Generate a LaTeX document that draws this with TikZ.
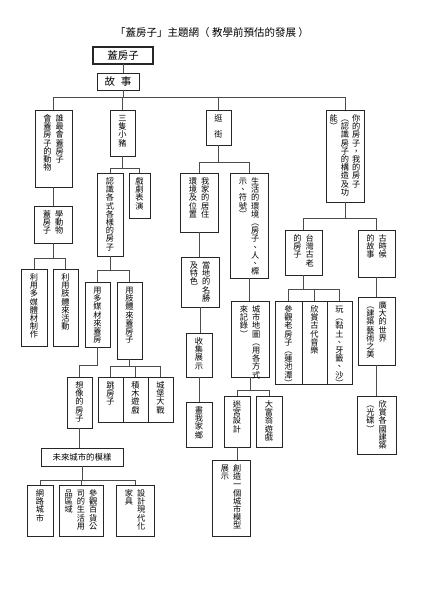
\documentclass[tikz,border=0pt]{standalone}
\usepackage{fontspec}
\newfontfamily\cjk{Noto Sans CJK TC}

% vertical text: one glyph per cell, columns written left to right
\newcommand{\vcell}[1]{\hbox to 1em{\hss\vrule height .88em depth .12em width 0pt\relax #1\hss}}
\def\vcolend{\vcolend}
\def\vcolloop#1{\ifx#1\vcolend\else\vcell{#1}\expandafter\vcolloop\fi}
\newcommand{\blankcell}{}
\newcommand{\vcol}[1]{\vtop{\baselineskip=1em\lineskiplimit=-\maxdimen\vcolloop#1\vcolend}}
\newcommand{\colgap}{\hspace{4pt}}
% box from (x1,y1) to (x2,y2), text hung from the top
\newcommand{\topic}[6]{%
  \node[topic, minimum width={(#4-#2)*1pt}, minimum height={(#5-#3)*1pt}] (#1) at ({(#2+#4)/2},{(#3+#5)/2}) {};
  \node[topictext] at ([yshift=-4pt]#1.north) {#6};}

\begin{document}
\begin{tikzpicture}[x=1pt,y=-1pt]
    \tikzstyle{topic}=[rectangle, draw=black!85, line width=.7pt, inner sep=0pt, outer sep=0pt]
    \tikzstyle{topictext}=[anchor=north, inner sep=0pt, font=\cjk\fontsize{8.2}{8.2}\selectfont]
    \tikzstyle{flat}=[topic, font=\cjk\fontsize{10.5}{12}\selectfont]
    \tikzstyle{link}=[draw=black!70, line width=.6pt]

    \useasboundingbox (0,0) rectangle (420,593);

    \node[font=\cjk\fontsize{10.5}{12}\selectfont] (title) at (212,33) {「蓋房子」主題網（ 教學前預估的發展 ）};
    \node[flat, line width=2pt, minimum width=60pt, minimum height=17pt] (root) at (123,55.5) {蓋房子};
    \node[flat, minimum width=42pt, minimum height=17pt] (story) at (118,81.5) {故\hspace{6pt}事};

    % first row
    \topic{animal}{35}{110}{72}{187}{\vcol{會蓋房子的動物}\colgap\vcol{誰最會蓋房子}}
    \topic{pigs}{110}{110}{135}{156}{\vcol{三隻小豬}}
    \topic{street}{206}{110}{231}{145}{\vcol{逛\blankcell 街}}
    \topic{yours}{326}{110}{364}{202}{\vcol{能︶}\hspace{3pt}\vcol{︵認識房子的構造及功}\hspace{3pt}\vcol{你的房子，我的房子}}

    % animals
    \topic{learn}{34}{206}{72}{243}{\vcol{蓋房子}\colgap\vcol{學動物}}
    \topic{media}{21}{269}{47}{346}{\vcol{利用多媒體材制作}}
    \topic{body}{53}{269}{78}{346}{\vcol{利用肢體來活動}}

    % three little pigs
    \topic{know}{97}{173}{123}{256}{\vcol{認識各式各樣的房子}}
    \topic{drama}{129}{173}{150}{218}{\vcol{戲劇表演}}
    \topic{mmhouse}{85}{282}{110}{347}{\vcol{用多媒材來蓋房}}
    \topic{bodyhouse}{117}{282}{142}{359}{\vcol{用肢體來蓋房子}}
    \topic{hop}{98}{377}{123}{422}{\vcol{跳房子}}
    \topic{blocks}{123}{377}{148}{422}{\vcol{積木遊戲}}
    \topic{castle}{148}{377}{173}{422}{\vcol{城堡大戰}}
    \topic{imagine}{67}{377}{92}{428}{\vcol{想像的房子}}
    \node[flat, font=\cjk\fontsize{8.4}{9}\selectfont, minimum width=82pt, minimum height=18pt] (future) at (82,457) {未來城市的模樣};
    \topic{net}{27}{485}{53}{536}{\vcol{網路城市}}
    \topic{mall}{59}{485}{103}{536}{\vcol{品區域}\colgap\vcol{司的生活用}\colgap\vcol{參觀百貨公}}
    \topic{furniture}{116}{485}{154}{536}{\vcol{家具}\colgap\vcol{設計現代化}}

    % going out
    \topic{home}{180}{173}{218}{232}{\vcol{環境及位置}\colgap\vcol{我家的居住}}
    \topic{life}{230}{173}{268}{278}{\vcol{示、符號︶}\colgap\vcol{生活的環境︵房子、人、標}}
    \topic{sights}{181}{257}{219}{307}{\vcol{及特色}\colgap\vcol{當地的名勝}}
    \topic{collect}{186}{333}{212}{377}{\vcol{收集展示}}
    \topic{hometown}{186}{402}{212}{447}{\vcol{畫我家鄉}}
    \topic{map}{231}{301}{269}{377}{\vcol{來記錄︶}\colgap\vcol{城市地圖︵用各方式}}
    \topic{maze}{224}{396}{250}{447}{\vcol{迷宮設計}}
    \topic{monopoly}{256}{396}{282}{447}{\vcol{大富翁遊戲}}
    \topic{model}{212}{460}{250}{536}{\vcol{展示}\colgap\vcol{創造一個城市模型}}

    % your house, my house
    \topic{taiwan}{285}{230}{322}{275}{\vcol{的房子}\colgap\vcol{台灣古老}}
    \topic{ancient}{358}{230}{395}{277}{\vcol{的故事}\colgap\vcol{古時候}}
    \topic{visit}{275}{301}{302}{384}{\vcol{參觀老房子︵蓮池潭︶}}
    \topic{music}{302}{301}{327}{384}{\vcol{欣賞古代音樂}}
    \topic{play}{327}{301}{352}{384}{\vcol{玩︵黏土、牙籤、沙︶}}
    \topic{world}{358}{297}{395}{365}{\vcol{︵建築藝術之美}\colgap\vcol{廣大的世界}}
    \topic{nations}{357}{396}{396}{454}{\vcol{︵光碟︶}\colgap\vcol{欣賞各國建築}}

    % connectors
    \draw[link] (root.south) -- (root.south |- story.north);
    \foreach \c in {animal,pigs,street,yours}
        \draw[link] (root.south |- story.south) -- ++(0,-7pt) -| (\c.north);
    \draw[link] (animal.south) -- (animal.south |- learn.north);
    \foreach \c in {media,body}
        \draw[link] (learn.south) -- ++(0,-15pt) -| (\c.north);
    \foreach \c in {know,drama}
        \draw[link] (pigs.south) -- ++(0,-12pt) -| (\c.north);
    \foreach \c in {mmhouse,bodyhouse}
        \draw[link] (know.south) -- ++(0,-14pt) -| (\c.north);
    \foreach \c in {hop,blocks,castle}
        \draw[link] (bodyhouse.south) -- ++(0,-7pt) -| (\c.north);
    \draw[link] (mmhouse.south) -- ++(0,-18pt) -| (imagine.north);
    \draw[link] (imagine.south) -- (imagine.south |- future.north);
    \foreach \c in {net,mall,furniture}
        \draw[link] (future.south) -- ++(0,-14pt) -| (\c.north);
    \foreach \c in {home,life}
        \draw[link] (street.south) -- ++(0,-17pt) -| (\c.north);
    \draw[link] (home.south) -- (home.south |- sights.north);
    \draw[link] (sights.south) -- (sights.south |- collect.north);
    \draw[link] (collect.south) -- (collect.south |- hometown.north);
    \draw[link] (life.south) -- (life.south |- map.north);
    \foreach \c in {maze,monopoly}
        \draw[link] (map.south) -- ++(0,-13pt) -| (\c.north);
    \draw[link] (maze.south) -- (maze.south |- model.north);
    \foreach \c in {taiwan,ancient}
        \draw[link] (yours.south) -- ++(0,-16pt) -| (\c.north);
    \foreach \c in {visit,music,play}
        \draw[link] (taiwan.south) -- ++(0,-14pt) -| (\c.north);
    \draw[link] (ancient.south) -- (ancient.south |- world.north);
    \draw[link] (world.south) -- (world.south |- nations.north);
\end{tikzpicture}
\end{document}
